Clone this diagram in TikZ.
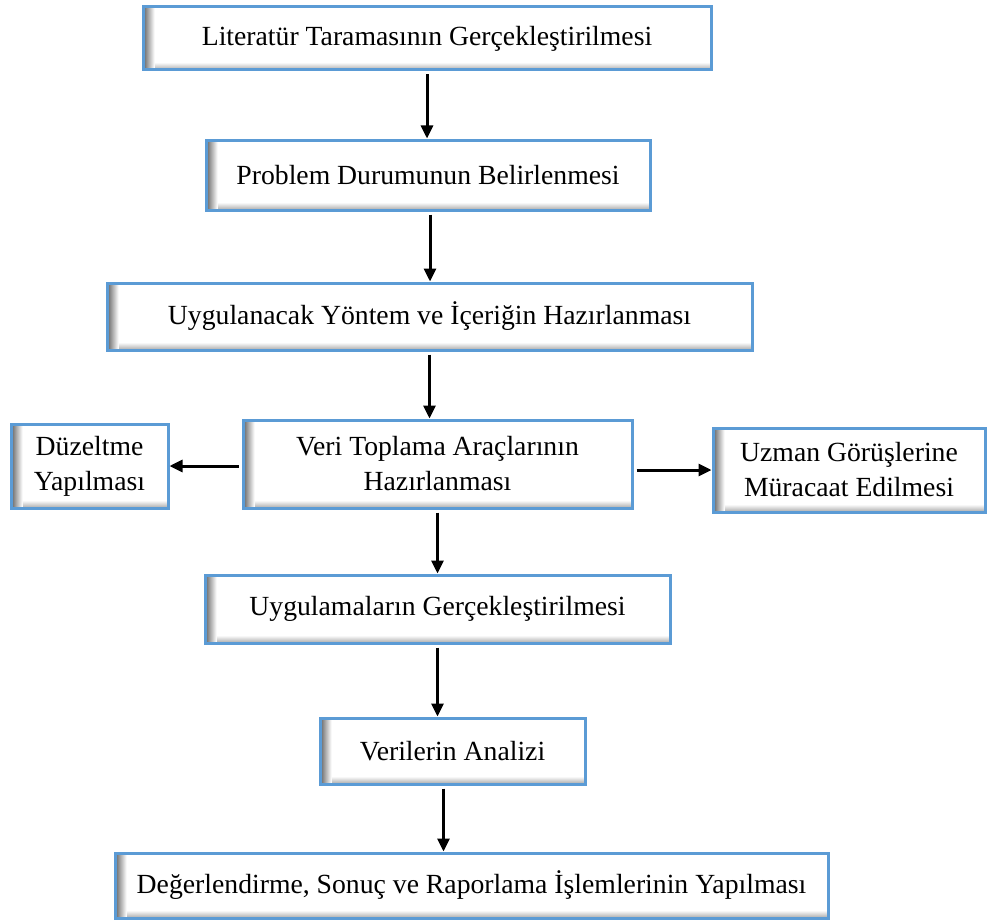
\documentclass[tikz,border=0pt]{standalone}
\usepackage{fontspec}
\setmainfont{Liberation Serif}
\usetikzlibrary{arrows.meta}
\definecolor{BoxBlue}{RGB}{91,155,213}

\tikzset{
  stepbox/.style={draw=BoxBlue, line width=3pt, fill=white, inner sep=0pt,
    align=center, font=\fontsize{27.7}{35}\selectfont,
    path picture={
      % inner shadow, left and bottom edge
      \foreach \i in {0,...,11}
        \fill[black!\fpeval{62-\i*5.4}]
          ([xshift=\i pt]path picture bounding box.south west) rectangle
          ([xshift=\i pt+1.05pt]path picture bounding box.north west);
      \foreach \i in {0,...,6}
        \fill[black, opacity=\fpeval{0.3-\i*0.045}]
          ([xshift=12pt,yshift=\i pt]path picture bounding box.south west) rectangle
          ([yshift=\i pt+1pt]path picture bounding box.south east);
    }},
  flow/.style={line width=3pt, -{Triangle[length=13pt,width=12pt]},
    shorten <=3pt}
}

\begin{document}
\begin{tikzpicture}[x=1pt,y=-1pt]
  \useasboundingbox (0,0) rectangle (987,923);

  \node[stepbox, minimum width=568pt, minimum height=63pt] (lit) at (427,38.5)
    {Literatür Taramasının Gerçekleştirilmesi};
  \node[stepbox, minimum width=444pt, minimum height=70pt] (prob) at (428,175)
    {Problem Durumunun Belirlenmesi};
  \node[stepbox, minimum width=645pt, minimum height=67pt] (yont) at (429.5,316.5)
    {Uygulanacak Yöntem ve İçeriğin Hazırlanması};
  \node[stepbox, minimum width=389pt, minimum height=88pt] (veri) at (437.5,464)
    {Veri Toplama Araçlarının\\Hazırlanması};
  \node[stepbox, minimum width=157pt, minimum height=84pt] (duz) at (89.5,466)
    {Düzeltme\\Yapılması};
  \node[stepbox, minimum width=272pt, minimum height=84pt] (uzm) at (849,470)
    {Uzman Görüşlerine\\Müracaat Edilmesi};
  \node[stepbox, minimum width=465pt, minimum height=68pt] (uyg) at (437.5,609)
    {Uygulamaların Gerçekleştirilmesi};
  \node[stepbox, minimum width=265pt, minimum height=66pt] (anl) at (452.5,751)
    {Verilerin Analizi};
  \node[stepbox, minimum width=713pt, minimum height=65pt] (deg) at (471.5,885.5)
    {Değerlendirme, Sonuç ve Raporlama İşlemlerinin Yapılması};

  % vertical flow
  \draw[flow] (lit.south) -- (lit.south |- prob.north);
  \draw[flow] ([xshift=2pt]prob.south) -- ([xshift=2pt]prob.south |- yont.north);
  \draw[flow] (yont.south) -- (yont.south |- veri.north);
  \draw[flow] (veri.south) -- (veri.south |- uyg.north);
  \draw[flow] (uyg.south) -- (uyg.south |- anl.north);
  \draw[flow] ([xshift=-9pt]anl.south) -- ([xshift=-9pt]anl.south |- deg.north);

  % side branches
  \draw[flow] (veri.west |- duz) -- (duz.east);
  \draw[flow] (veri.east |- uzm) -- (uzm.west);
\end{tikzpicture}
\end{document}
